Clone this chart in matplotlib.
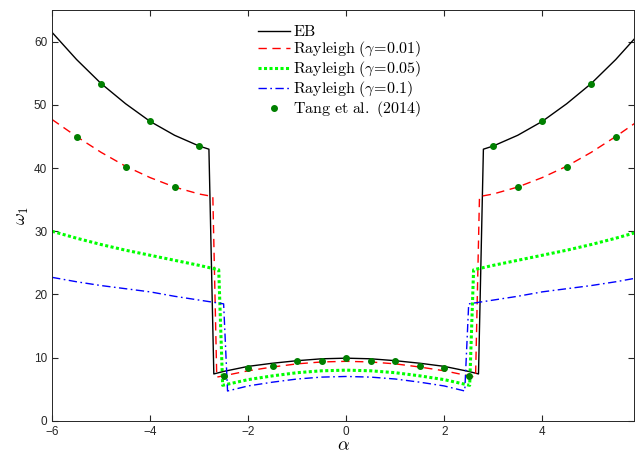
import matplotlib
matplotlib.use("Agg")
from matplotlib import pyplot as plt

plt.rcParams['mathtext.fontset'] = 'cm'
plt.rcParams['font.family'] = ['Liberation Sans', 'DejaVu Sans']

# EB
a_eb = [-6, -5.5, -5, -4.5, -4, -3.5, -3, -2.8, -2.7, -2.5, -2, -1.5, -1, -0.5, 0,
        0.5, 1, 1.5, 2, 2.5, 2.7, 2.8, 3, 3.5, 4, 4.5, 5, 5.5, 6]
w_eb = [61.5, 57.2, 53.4, 50.2, 47.4, 45.2, 43.5, 43.0, 7.4, 7.8, 8.6, 9.1, 9.5, 9.8, 9.9,
        9.8, 9.5, 9.1, 8.6, 7.8, 7.4, 43.0, 43.5, 45.2, 47.4, 50.2, 53.4, 57.2, 61.5]

# Rayleigh gamma=0.01
a_r1 = [-6, -5.5, -5, -4.5, -4, -3.5, -3, -2.72, -2.64, -2.5, -2, -1.5, -1, -0.5, 0,
        0.5, 1, 1.5, 2, 2.5, 2.64, 2.72, 3, 3.5, 4, 4.5, 5, 5.5, 6]
w_r1 = [47.7, 45.0, 42.5, 40.3, 38.5, 37.0, 35.9, 35.5, 6.9, 7.1, 7.9, 8.5, 9.0, 9.3, 9.4,
        9.3, 9.0, 8.5, 7.9, 7.1, 6.9, 35.5, 35.9, 37.0, 38.5, 40.3, 42.5, 45.0, 47.7]

# Rayleigh gamma=0.05
a_r5 = [-6, -5.5, -5, -4.5, -4, -3.5, -3, -2.6, -2.52, -2, -1.5, -1, -0.5, 0,
        0.5, 1, 1.5, 2, 2.52, 2.6, 3, 3.5, 4, 4.5, 5, 5.5, 6]
w_r5 = [30.0, 28.9, 27.9, 27.0, 26.2, 25.4, 24.6, 23.9, 5.6, 6.5, 7.1, 7.6, 7.9, 8.0,
        7.9, 7.6, 7.1, 6.5, 5.6, 23.9, 24.6, 25.4, 26.2, 27.0, 27.9, 28.9, 30.0]

# Rayleigh gamma=0.1
a_r10 = [-6, -5.5, -5, -4.5, -4, -3.5, -3, -2.5, -2.42, -2, -1.5, -1, -0.5, 0,
         0.5, 1, 1.5, 2, 2.42, 2.5, 3, 3.5, 4, 4.5, 5, 5.5, 6]
w_r10 = [22.7, 22.0, 21.4, 20.9, 20.4, 19.7, 19.1, 18.5, 4.7, 5.5, 6.1, 6.6, 6.9, 7.0,
         6.9, 6.6, 6.1, 5.5, 4.7, 18.5, 19.1, 19.7, 20.4, 20.9, 21.4, 22.0, 22.7]

# Tang et al. (2014)
a_tang = [-5, -4, -3, 3, 4, 5, -5.5, -4.5, -3.5, 3.5, 4.5, 5.5,
          -2.5, -2, -1.5, -1, -0.5, 0, 0.5, 1, 1.5, 2, 2.5]
w_tang = [53.4, 47.4, 43.5, 43.5, 47.4, 53.4, 44.9, 40.2, 37.0, 37.0, 40.2, 44.9,
          7.0, 8.4, 8.6, 9.5, 9.4, 10.0, 9.4, 9.5, 8.6, 8.4, 7.0]

fig = plt.figure(figsize=(6.35, 4.57), dpi=100)
ax = fig.add_axes([0.082, 0.0795, 0.917, 0.898])

ax.plot(a_eb, w_eb, color='black', lw=1.0, label=r'$\mathrm{EB}$')
ax.plot(a_r1, w_r1, color='red', lw=1.0, dashes=(6, 4), label=r'$\mathrm{Rayleigh}\ (\gamma\!=\!0.01)$')
ax.plot(a_r5, w_r5, color='#00ff00', lw=2.2, ls=(0, (1, 0.8)), label=r'$\mathrm{Rayleigh}\ (\gamma\!=\!0.05)$')
ax.plot(a_r10, w_r10, color='blue', lw=1.0, ls=(0, (6, 2.5, 1.2, 2.5)), label=r'$\mathrm{Rayleigh}\ (\gamma\!=\!0.1)$')
ax.plot(a_tang, w_tang, 'o', color='green', ms=4, ls='none', label=r'$\mathrm{Tang\ et\ al.\ (2014)}$')

ax.set_xlim(-6, 5.88)
ax.set_ylim(0, 65)
ax.set_xticks([-6, -4, -2, 0, 2, 4])
ax.set_yticks([0, 10, 20, 30, 40, 50, 60])
ax.tick_params(direction='in', top=True, right=True, labelsize=8.5, colors='#262626', length=4)
for s in ax.spines.values():
    s.set_color('#262626')
    s.set_linewidth(0.7)

ax.set_xlabel(r'$\alpha$', fontsize=13, labelpad=0)
ax.set_ylabel(r'$\omega_1$', fontsize=13, labelpad=2)

ax.legend(loc='upper left', bbox_to_anchor=(0.34, 0.985), frameon=False, fontsize=11.5,
          handlelength=2.0, handletextpad=0.2, labelspacing=0.0, borderpad=0)

fig.savefig('out.png', dpi=100)
